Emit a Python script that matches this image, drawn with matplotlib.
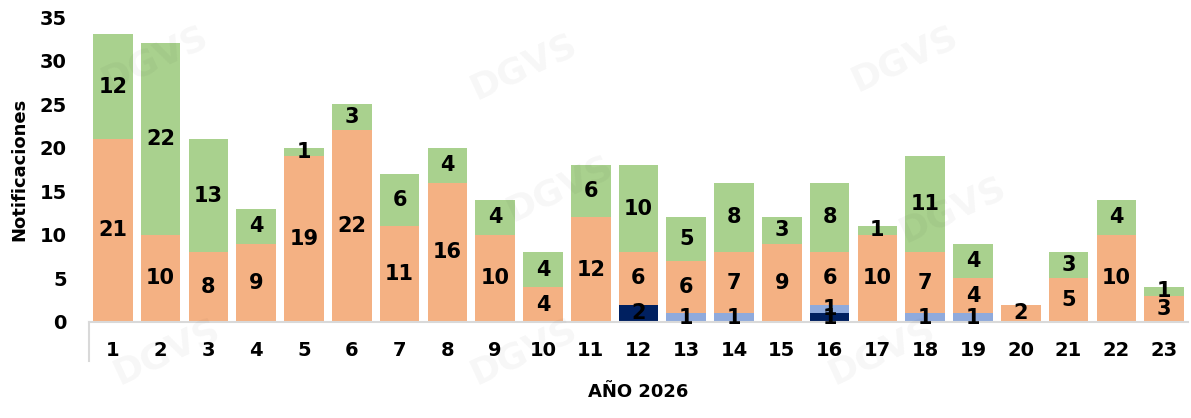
import matplotlib.pyplot as plt
import numpy as np

semanas = list(range(1, 24))
azul_oscuro = [0,0,0,0,0,0,0,0,0,0,0,2,0,0,0,1,0,0,0,0,0,0,0]
azul_claro  = [0,0,0,0,0,0,0,0,0,0,0,0,1,1,0,1,0,1,1,0,0,0,0]
naranja     = [21,10,8,9,19,22,11,16,10,4,12,6,6,7,9,6,10,7,4,2,5,10,3]
verde       = [12,22,13,4,1,3,6,4,4,4,6,10,5,8,3,8,1,11,4,0,3,4,1]

series = [(azul_oscuro, "#002060"), (azul_claro, "#8FAADC"),
          (naranja, "#F4B183"), (verde, "#A9D18E")]

plt.rcParams['font.family'] = ['DejaVu Sans']
fig = plt.figure(figsize=(11.91, 4.18), dpi=100)
ax = fig.add_axes([0.0747, 0.2297, 0.9228, 0.7296])

# marcas de agua
for (x, y) in [(0.13, 0.86), (0.44, 0.84), (0.76, 0.86), (0.14, 0.16),
               (0.44, 0.16), (0.74, 0.16), (0.47, 0.55), (0.8, 0.5)]:
    fig.text(x, y, "DGVS", fontsize=26, fontweight="bold", color="#000000",
             alpha=0.035, rotation=25, ha="center", va="center", zorder=0)

x = np.array(semanas)
base = np.zeros(len(x))
for vals, col in series:
    v = np.array(vals)
    ax.bar(x, v, bottom=base, width=0.83, color=col, zorder=2)
    for xi, b, vi in zip(x, base, v):
        if vi > 0:
            ax.text(xi, b + vi / 2, str(vi), ha="center", va="center",
                    fontsize=15, fontweight="bold", color="black", zorder=3)
    base = base + v

ax.set_xlim(0.5, 23.5)
ax.set_ylim(0, 35)
ax.set_yticks(range(0, 36, 5))
ax.set_xticks(x)
ax.set_xticklabels([str(s) for s in semanas])
ax.tick_params(axis="both", length=0, labelsize=14)
ax.tick_params(axis="x", pad=14)
ax.tick_params(axis="y", pad=16)
for lab in ax.get_xticklabels() + ax.get_yticklabels():
    lab.set_fontweight("bold")
for s in ["top", "right", "left"]:
    ax.spines[s].set_visible(False)
ax.spines["bottom"].set_color("#D9D9D9")
ax.spines["bottom"].set_linewidth(1.5)
ax.plot([0.5, 0.5], [0, -4.5], color="#D9D9D9", lw=1.5, clip_on=False)

ax.set_ylabel("Notificaciones", fontsize=13, fontweight="bold", labelpad=8)
ax.set_xlabel("AÑO 2026", fontsize=13, fontweight="bold")
ax.xaxis.set_label_coords(0.5, -0.2)

fig.savefig("out.png", dpi=100)
